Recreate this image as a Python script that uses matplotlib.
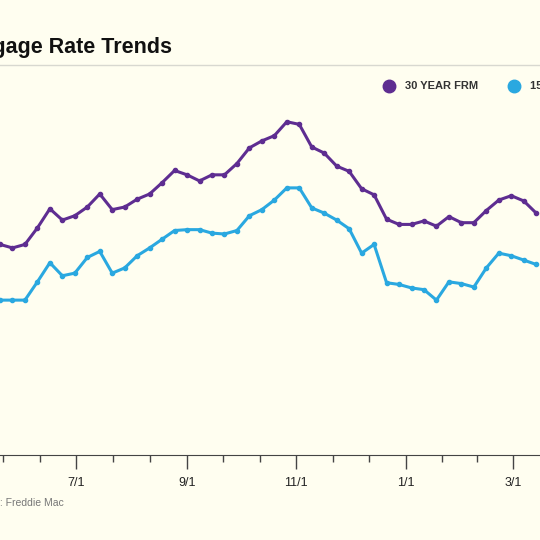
import matplotlib
matplotlib.use("Agg")
import matplotlib.pyplot as plt

frm30 = [6.38,6.34,6.38,6.57,6.79,6.66,6.71,6.81,6.96,6.78,6.81,6.90,6.96,7.09,7.23,7.18,7.11,7.18,7.18,7.31,7.49,7.57,7.63,7.79,7.76,7.50,7.43,7.28,7.22,7.02,6.95,6.67,6.61,6.61,6.65,6.59,6.70,6.63,6.63,6.77,6.89,6.94,6.88,6.74]
frm15 = [5.74,5.74,5.74,5.95,6.17,6.02,6.05,6.23,6.30,6.05,6.11,6.25,6.34,6.44,6.54,6.55,6.55,6.51,6.50,6.54,6.71,6.78,6.89,7.03,7.03,6.80,6.74,6.66,6.56,6.28,6.38,5.94,5.92,5.88,5.86,5.74,5.95,5.93,5.89,6.11,6.28,6.25,6.20,6.15]
major_pos = [6.08, 15.0, 23.75, 32.55, 41.15]
major_labels = ["7/1", "9/1", "11/1", "1/1", "3/1"]
minor_pos = [0.27, 3.18, 9.06, 12.03, 17.88, 20.85, 26.7, 29.6, 35.45, 38.25]

bg = "#FFFEF0"
purple = "#5E2D91"
blue = "#2AA8E0"

fig = plt.figure(figsize=(5.4, 5.4), dpi=100, facecolor=bg)
ax = fig.add_axes([0, 1-455/540, 1, (455-100)/540])
ax.set_facecolor(bg)
x = list(range(len(frm30)))
ax.plot(x, frm30, color=purple, lw=2.2, marker="o", ms=3, clip_on=True)
ax.plot(x, frm15, color=blue, lw=2.2, marker="o", ms=3, clip_on=True)
ax.set_xlim(0, 540/12.47)
ax.set_ylim(3.96, 8.04)
for s in ["left", "right", "top"]:
    ax.spines[s].set_visible(False)
ax.spines["bottom"].set_color("#444444")
ax.set_yticks([])
ax.set_xticks(major_pos)
ax.set_xticklabels(major_labels, fontsize=9, color="#222222", family="Liberation Sans")
ax.set_xticks(minor_pos, minor=True)
ax.tick_params(axis="x", which="major", length=10, width=1, color="#444444", pad=6)
ax.tick_params(axis="x", which="minor", length=5, width=1, color="#444444")

fig.text(172/540, 1-47/540, "Mortgage Rate Trends", ha="right", va="center",
         fontsize=15.5, fontweight="bold", family="Liberation Sans", color="#111111")
fig.add_artist(plt.Line2D([0, 1], [1-65/540, 1-65/540], color="#d8d8d0", lw=1))
fig.text(64/540, 1-503/540, "Source: Freddie Mac", ha="right", va="center",
         fontsize=7.5, family="Liberation Sans", color="#777777")

fig.add_artist(plt.Line2D([389/540], [1-86/540], marker="o", ms=9, color=purple, lw=0))
fig.text(405/540, 1-86/540, "30 YEAR FRM", ha="left", va="center", fontsize=8,
         fontweight="bold", family="Liberation Sans", color="#333333")
fig.add_artist(plt.Line2D([514/540], [1-86/540], marker="o", ms=9, color=blue, lw=0))
fig.text(530/540, 1-86/540, "15 YEAR FRM", ha="left", va="center", fontsize=8,
         fontweight="bold", family="Liberation Sans", color="#333333")

fig.savefig("out.png", dpi=100, facecolor=bg)
